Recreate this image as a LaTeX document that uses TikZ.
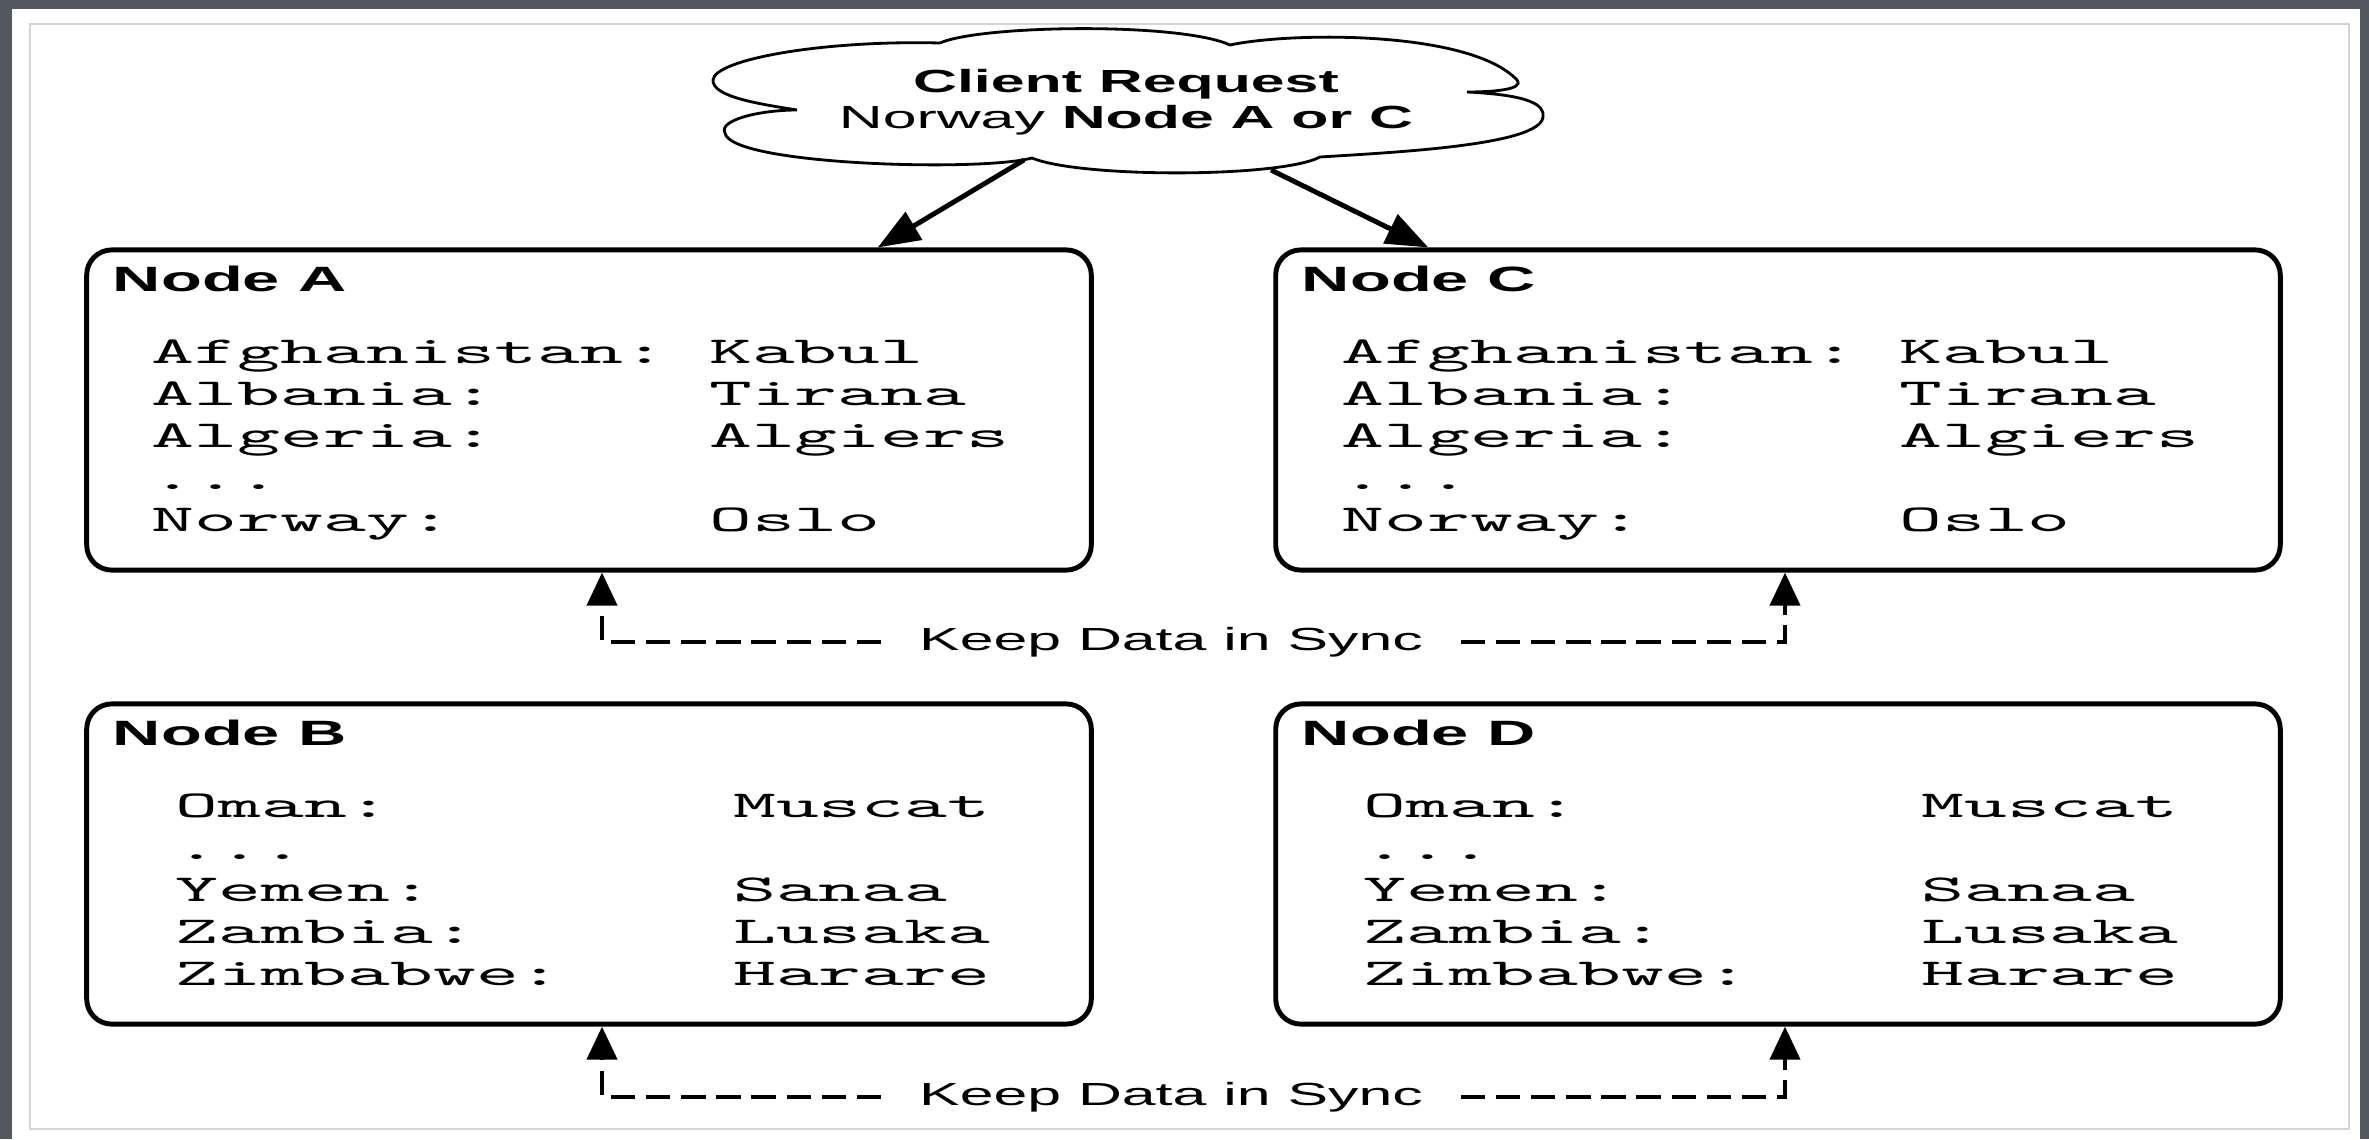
\documentclass[tikz,border=0pt]{standalone}
\usepackage{fontspec}
\setmainfont{Liberation Sans}[FakeStretch=1.9]
\newfontfamily\monofont{Latin Modern Mono}[FakeStretch=2.15]
\usepackage{tikz}
\usetikzlibrary{arrows.meta,calc}
\definecolor{framegray}{RGB}{82,87,96}
\definecolor{linegray}{RGB}{212,212,212}

\begin{document}
\begin{tikzpicture}[x=0.01cm,y=-0.01cm,font=\fontsize{9.1}{10.24}\selectfont,
	nodebox/.style={draw,line width=1.4pt,rounded corners=0.25cm,minimum width=10.04cm,minimum height=3.2cm,inner sep=0pt},
	nodetitle/.style={anchor=base west,inner sep=0pt,font=\bfseries},
	captable/.style={anchor=base west,inner sep=0pt,font=\monofont\fontsize{10.8}{11.95}\selectfont},
	reqtext/.style={anchor=base,inner sep=0pt},
	cloudline/.style={line width=0.8pt},
	reqarrow/.style={-{Triangle[length=12pt,width=9pt]},line width=1.4pt},
	syncarrow/.style={-{Triangle[length=9.4pt,width=8.5pt]},line width=1.3pt,dash pattern=on 7pt off 3pt},
	synclabel/.style={fill=white,inner xsep=0.37cm,inner ysep=0pt}]
			\useasboundingbox (0,0) rectangle (2369,1139);
			\fill[framegray] (0,0) rectangle (2369,1139);
			\fill[white] (12,9) rectangle (2360,1139);
			\draw[linegray,line width=0.7pt] (30,24) rectangle (2349,1129);

			% client request cloud
			\draw[cloudline] (797,110) .. controls (760,104) and (712,97) .. (713,80)
				.. controls (714,60) and (820,40) .. (940,43)
				.. controls (980,25) and (1180,22) .. (1230,45)
				.. controls (1290,32) and (1470,30) .. (1517,80)
				.. controls (1525,90) and (1490,92) .. (1467,92)
				.. controls (1530,95) and (1545,105) .. (1543,117)
				.. controls (1540,145) and (1400,152) .. (1320,157)
				.. controls (1280,178) and (1080,178) .. (1032,158)
				.. controls (980,172) and (730,165) .. (725,133)
				.. controls (718,120) and (760,110) .. cycle;
			\node[reqtext] (req) at (1126,92) {\begin{tabular}[t]{@{}c@{}}\textbf{Client Request}\\Norway \textbf{Node A or C}\end{tabular}};
			\coordinate (reqL) at (1024,160);
			\coordinate (reqR) at (1271,170);

			% the four nodes
			\node[nodebox] (nodeA) at (589,410) {};
			\node[nodebox] (nodeC) at (1778,410) {};
			\node[nodebox] (nodeB) at (589,864) {};
			\node[nodebox] (nodeD) at (1778,864) {};

			\node[nodetitle] (titleA) at ($(nodeA.north west)+(28,44)$) {Node A};
			\node[nodetitle] (titleC) at ($(nodeC.north west)+(28,44)$) {Node C};
			\node[nodetitle] (titleB) at ($(nodeB.north west)+(28,44)$) {Node B};
			\node[nodetitle] (titleD) at ($(nodeD.north west)+(28,44)$) {Node D};

			\node[captable] (capsA) at ($(nodeA.north west)+(67,116)$) {\begin{tabular}[t]{@{}l@{}}
				Afghanistan:~Kabul\\Albania:~~~~~Tirana\\Algeria:~~~~~Algiers\\...\\Norway:~~~~~~Oslo\end{tabular}};
			\node[captable] (capsC) at ($(nodeC.north west)+(68,116)$) {\begin{tabular}[t]{@{}l@{}}
				Afghanistan:~Kabul\\Albania:~~~~~Tirana\\Algeria:~~~~~Algiers\\...\\Norway:~~~~~~Oslo\end{tabular}};
			\node[captable] (capsB) at ($(nodeB.north west)+(91,116)$) {\begin{tabular}[t]{@{}l@{}}
				Oman:~~~~~~~~Muscat\\...\\Yemen:~~~~~~~Sanaa\\Zambia:~~~~~~Lusaka\\Zimbabwe:~~~~Harare\end{tabular}};
			\node[captable] (capsD) at ($(nodeD.north west)+(90,116)$) {\begin{tabular}[t]{@{}l@{}}
				Oman:~~~~~~~~Muscat\\...\\Yemen:~~~~~~~Sanaa\\Zambia:~~~~~~Lusaka\\Zimbabwe:~~~~Harare\end{tabular}};

			% requests
			\draw[reqarrow] (reqL) -- ($(nodeA.north east)+(-216,0)$);
			\draw[reqarrow] (reqR) -- ($(nodeC.north west)+(155,0)$);

			% sync
			\node[synclabel] (syncAC) at (1171,642) {Keep Data in Sync};
			\node[synclabel] (syncBD) at (1171,1097) {Keep Data in Sync};
			\draw[syncarrow] (syncAC.west) -| ([xshift=0.13cm]nodeA.south);
			\draw[syncarrow] (syncAC.east) -| ([xshift=0.07cm]nodeC.south);
			\draw[syncarrow] (syncBD.west) -| ([xshift=0.13cm]nodeB.south);
			\draw[syncarrow] (syncBD.east) -| ([xshift=0.07cm]nodeD.south);
\end{tikzpicture}
\end{document}
